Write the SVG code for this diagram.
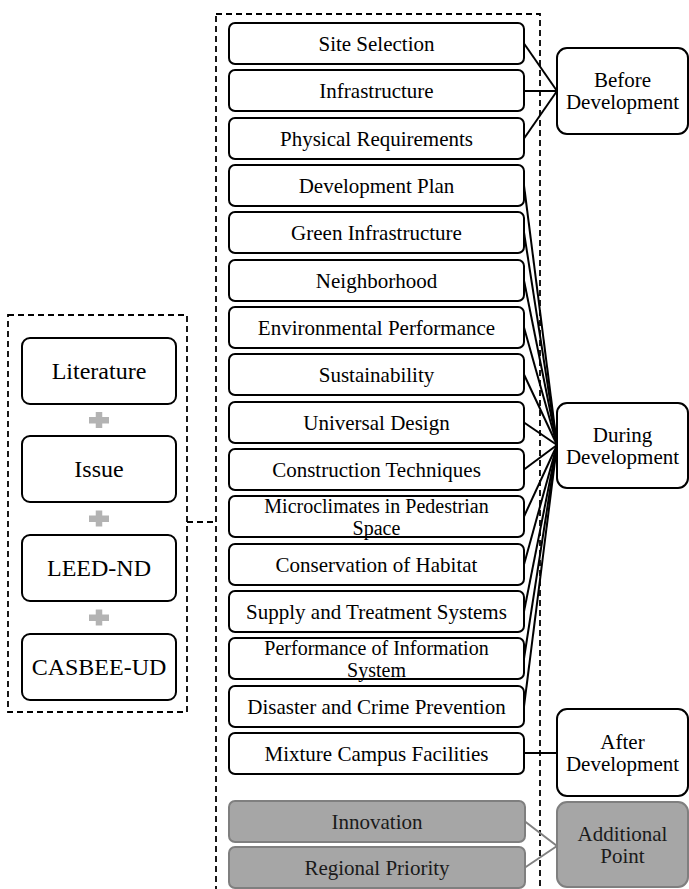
<svg xmlns="http://www.w3.org/2000/svg" width="689" height="889" viewBox="0 0 689 889" font-family="'Liberation Serif', 'Times New Roman', 'DejaVu Serif', serif">
<style>
  .bx{fill:#fff;stroke:#000;stroke-width:2}
  .gb{fill:#a6a6a6;stroke:#7f7f7f;stroke-width:2}
  text{font-family:"Liberation Serif","Times New Roman","DejaVu Serif",serif}
  .t{font-size:21px;fill:#000;text-anchor:middle}
  .t2{font-size:20px;fill:#000;text-anchor:middle}
  .tl{font-size:24px;fill:#000;text-anchor:middle}
  .tg{fill:#1a1a1a}
  .dash{fill:none;stroke:#000;stroke-width:1.8;stroke-dasharray:6 4}
  .ln{stroke:#000;stroke-width:2;fill:none}
  .lg{stroke:#808080;stroke-width:2;fill:none}
  .plus{fill:#b3b3b3}
</style>
<rect class="dash" x="8" y="315" width="179" height="397"/>
<rect class="dash" x="216" y="14" width="324" height="890"/>
<g id="connectors">
  <line class="dash" x1="187" y1="522" x2="216" y2="522"/>
  <line class="ln" x1="524" y1="43.5" x2="557" y2="91"/>
  <line class="ln" x1="524" y1="91" x2="557" y2="91"/>
  <line class="ln" x1="524" y1="138.5" x2="557" y2="91"/>
  <line class="ln" x1="524" y1="185.5" x2="557" y2="445"/>
  <line class="ln" x1="524" y1="232.5" x2="557" y2="445"/>
  <line class="ln" x1="524" y1="280.5" x2="557" y2="445"/>
  <line class="ln" x1="524" y1="327.5" x2="557" y2="445"/>
  <line class="ln" x1="524" y1="374.5" x2="557" y2="445"/>
  <line class="ln" x1="524" y1="422.5" x2="557" y2="445"/>
  <line class="ln" x1="524" y1="469.5" x2="557" y2="445"/>
  <line class="ln" x1="524" y1="516.5" x2="557" y2="445"/>
  <line class="ln" x1="524" y1="564.5" x2="557" y2="445"/>
  <line class="ln" x1="524" y1="611.5" x2="557" y2="445"/>
  <line class="ln" x1="524" y1="658.5" x2="557" y2="445"/>
  <line class="ln" x1="524" y1="706.5" x2="557" y2="445"/>
  <line class="ln" x1="524" y1="753" x2="557" y2="753"/>
  <line class="lg" x1="525" y1="821.5" x2="557" y2="846"/>
  <line class="lg" x1="525" y1="867.5" x2="557" y2="846"/>
</g>
<g id="literature"><rect class="bx" x="22" y="338" width="154" height="66" rx="8"/><text class="tl" x="99" y="379">Literature</text></g>
<rect class="plus" x="89" y="417" width="20" height="6.5"/><rect class="plus" x="95.75" y="412" width="6.5" height="16"/>
<g id="issue"><rect class="bx" x="22" y="436" width="154" height="66" rx="8"/><text class="tl" x="99" y="477">Issue</text></g>
<rect class="plus" x="89" y="515.5" width="20" height="6.5"/><rect class="plus" x="95.75" y="510.5" width="6.5" height="16"/>
<g id="leed"><rect class="bx" x="22" y="535" width="154" height="66" rx="8"/><text class="tl" x="99" y="576">LEED-ND</text></g>
<rect class="plus" x="89" y="614.5" width="20" height="6.5"/><rect class="plus" x="95.75" y="609.5" width="6.5" height="16"/>
<g id="casbee"><rect class="bx" x="22" y="634" width="154" height="66" rx="8"/><text class="tl" x="99" y="675">CASBEE-UD</text></g>

<g id="n1"><rect class="bx" x="229" y="23" width="295" height="41" rx="6"/><text class="t" x="376.5" y="50.5">Site Selection</text></g>
<g id="n2"><rect class="bx" x="229" y="70" width="295" height="41" rx="6"/><text class="t" x="376.5" y="97.5">Infrastructure</text></g>
<g id="n3"><rect class="bx" x="229" y="118" width="295" height="41" rx="6"/><text class="t" x="376.5" y="145.5">Physical Requirements</text></g>
<g id="n4"><rect class="bx" x="229" y="165" width="295" height="41" rx="6"/><text class="t" x="376.5" y="192.5">Development Plan</text></g>
<g id="n5"><rect class="bx" x="229" y="212" width="295" height="41" rx="6"/><text class="t" x="376.5" y="239.5">Green Infrastructure</text></g>
<g id="n6"><rect class="bx" x="229" y="260" width="295" height="41" rx="6"/><text class="t" x="376.5" y="287.5">Neighborhood</text></g>
<g id="n7"><rect class="bx" x="229" y="307" width="295" height="41" rx="6"/><text class="t" x="376.5" y="334.5">Environmental Performance</text></g>
<g id="n8"><rect class="bx" x="229" y="354" width="295" height="41" rx="6"/><text class="t" x="376.5" y="381.5">Sustainability</text></g>
<g id="n9"><rect class="bx" x="229" y="402" width="295" height="41" rx="6"/><text class="t" x="376.5" y="429.5">Universal Design</text></g>
<g id="n10"><rect class="bx" x="229" y="449" width="295" height="41" rx="6"/><text class="t" x="376.5" y="476.5">Construction Techniques</text></g>
<g id="n11"><rect class="bx" x="229" y="496" width="295" height="41" rx="6"/><text class="t2" x="376.5" y="512.5">Microclimates in Pedestrian</text><text class="t2" x="376.5" y="534.5">Space</text></g>
<g id="n12"><rect class="bx" x="229" y="544" width="295" height="41" rx="6"/><text class="t" x="376.5" y="571.5">Conservation of Habitat</text></g>
<g id="n13"><rect class="bx" x="229" y="591" width="295" height="41" rx="6"/><text class="t" x="376.5" y="618.5">Supply and Treatment Systems</text></g>
<g id="n14"><rect class="bx" x="229" y="638" width="295" height="41" rx="6"/><text class="t2" x="376.5" y="654.5">Performance of Information</text><text class="t2" x="376.5" y="676.5">System</text></g>
<g id="n15"><rect class="bx" x="229" y="686" width="295" height="41" rx="6"/><text class="t" x="376.5" y="713.5">Disaster and Crime Prevention</text></g>
<g id="n16"><rect class="bx" x="229" y="733" width="295" height="41" rx="6"/><text class="t" x="376.5" y="760.5">Mixture Campus Facilities</text></g>
<g id="innovation"><rect class="gb" x="229" y="801" width="296" height="41" rx="6"/><text class="t tg" x="377" y="828.5">Innovation</text></g>
<g id="regional"><rect class="gb" x="229" y="847" width="296" height="41" rx="6"/><text class="t tg" x="377" y="874.5">Regional Priority</text></g>

<g id="before"><rect class="bx" x="557" y="48" width="131" height="86" rx="10"/><text class="t" x="622.5" y="87">Before</text><text class="t" x="622.5" y="109">Development</text></g>
<g id="during"><rect class="bx" x="557" y="403" width="131" height="85" rx="10"/><text class="t" x="622.5" y="441.5">During</text><text class="t" x="622.5" y="463.5">Development</text></g>
<g id="after"><rect class="bx" x="557" y="709" width="131" height="87" rx="10"/><text class="t" x="622.5" y="748.5">After</text><text class="t" x="622.5" y="770.5">Development</text></g>
<g id="additional"><rect class="gb" x="557" y="802" width="131" height="85" rx="10"/><text class="t tg" x="622.5" y="840.5">Additional</text><text class="t tg" x="622.5" y="862.5">Point</text></g>
</svg>
